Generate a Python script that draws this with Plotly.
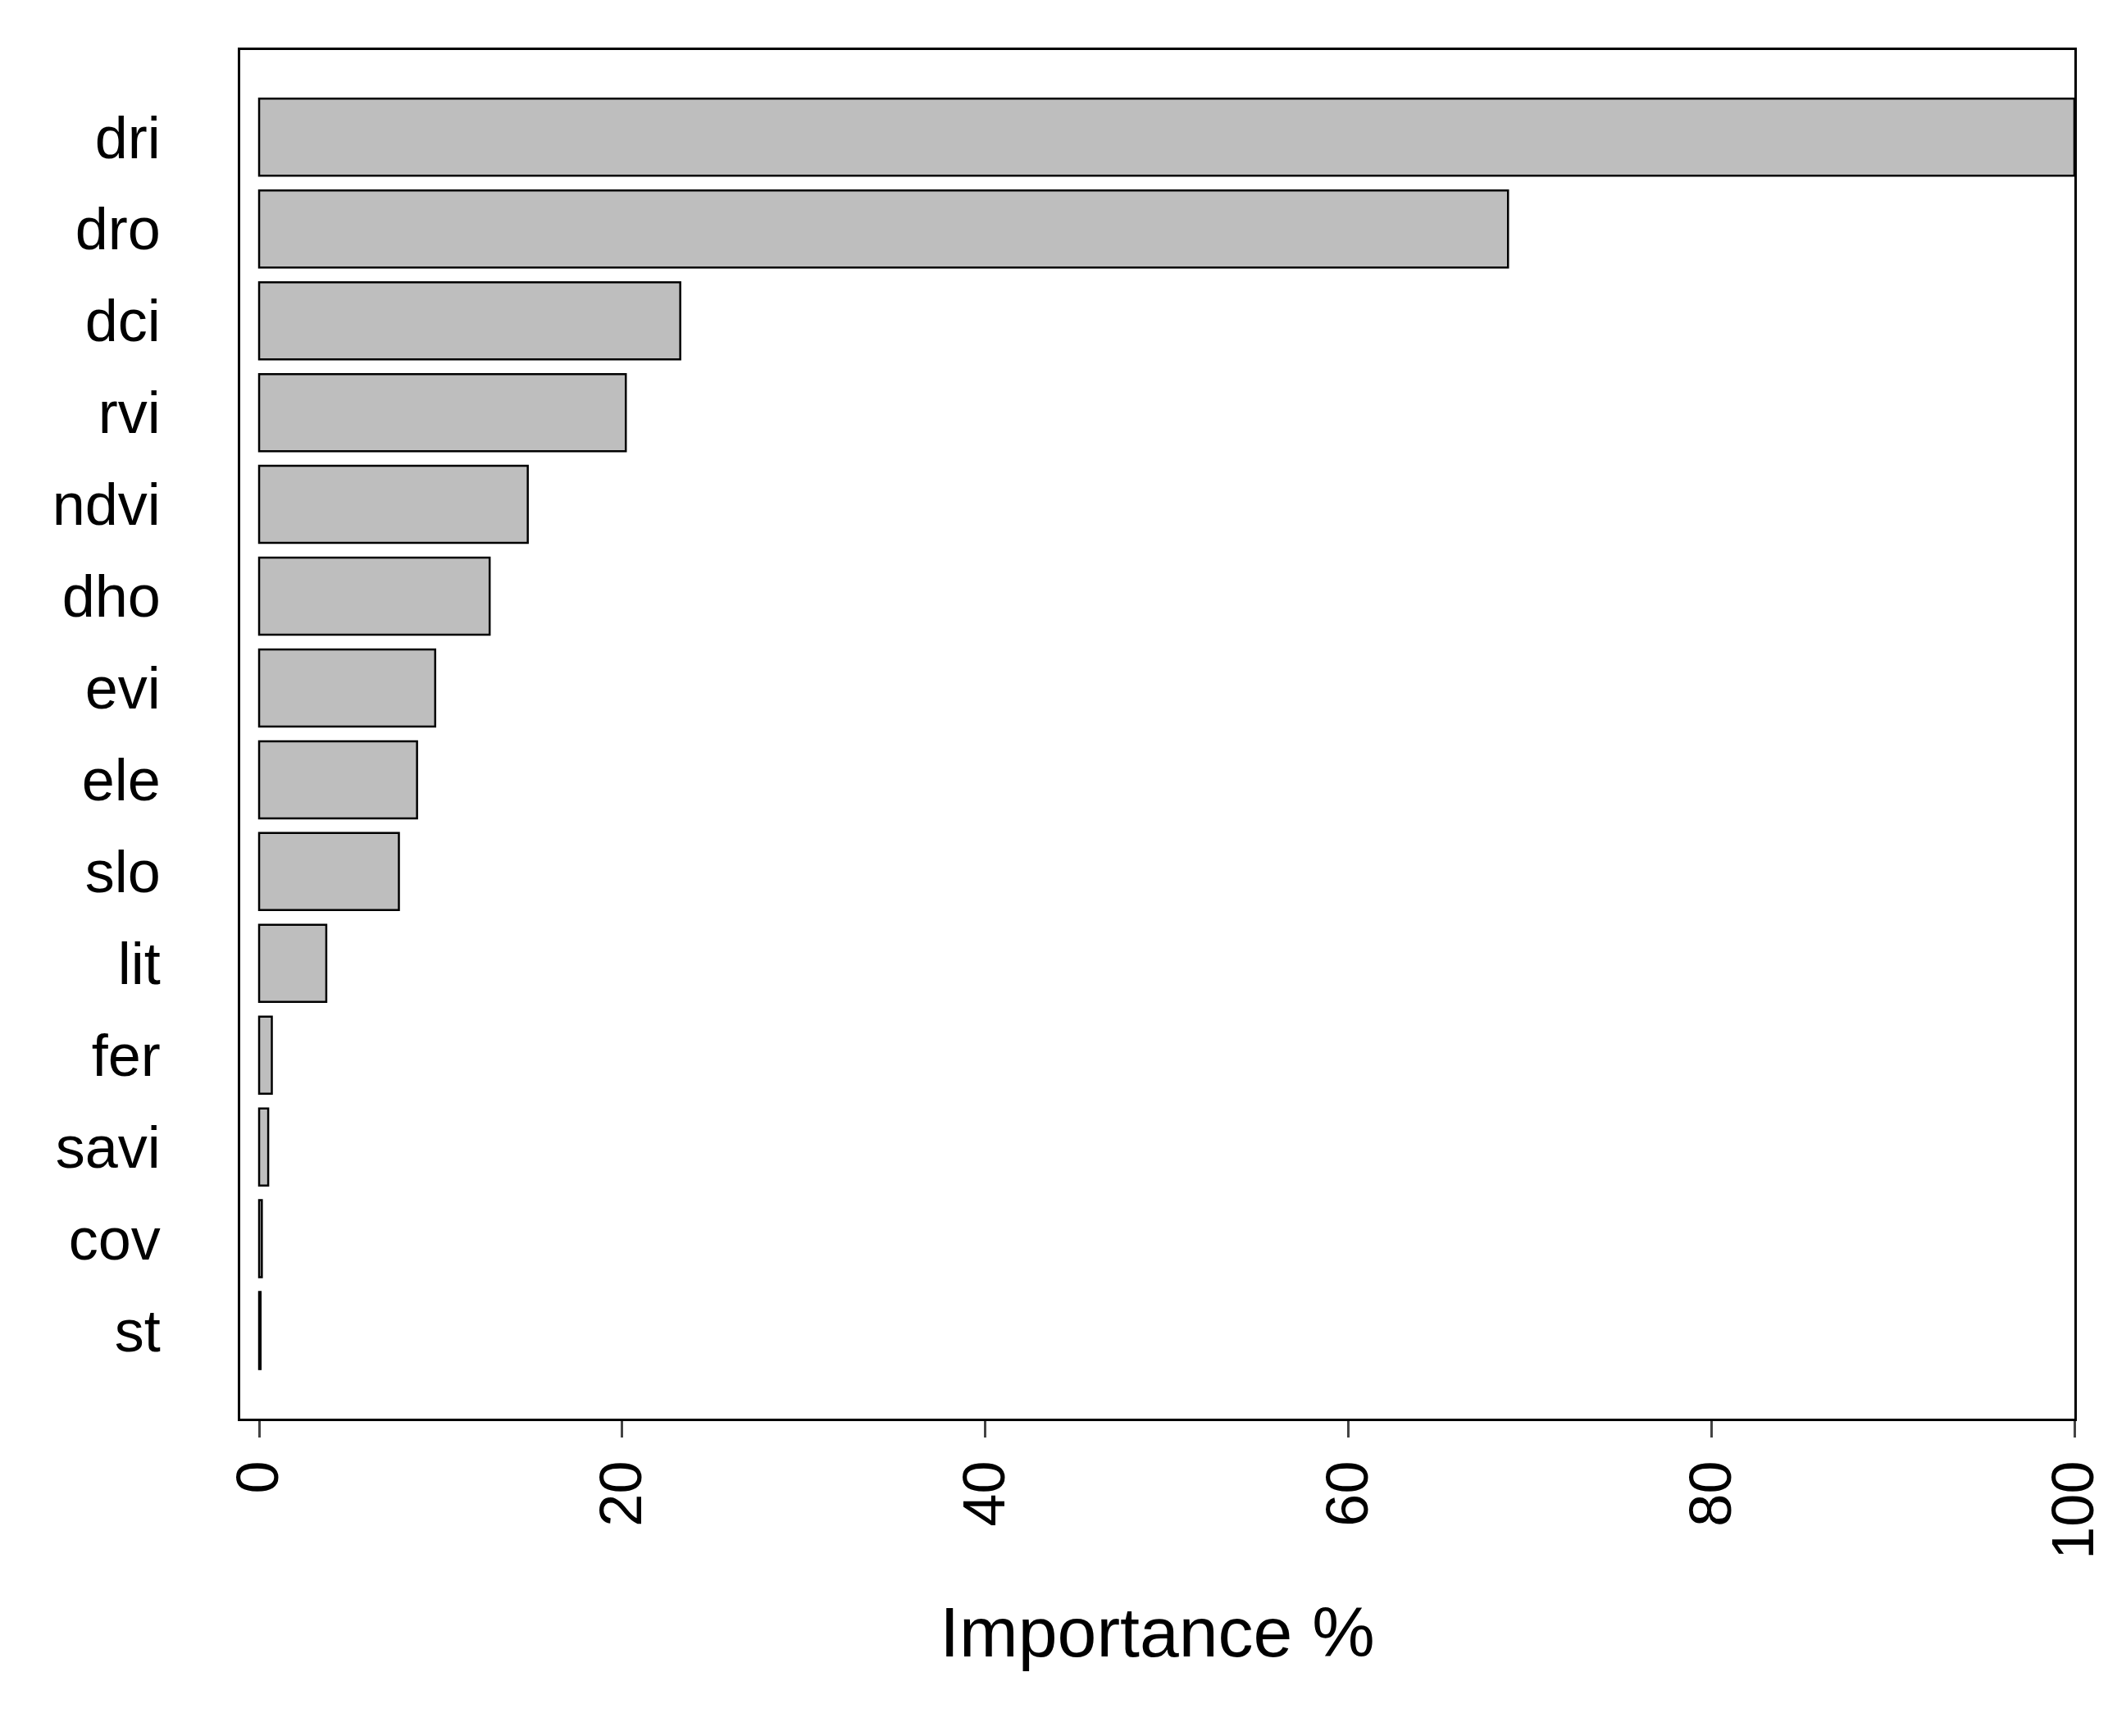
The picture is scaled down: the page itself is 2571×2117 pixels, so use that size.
import plotly.graph_objects as go

variables = ["dri","dro","dci","rvi","ndvi","dho","evi","ele","slo","lit","fer","savi","cov","st"]
importance = [100, 68.8, 23.2, 20.2, 14.8, 12.7, 9.7, 8.7, 7.7, 3.7, 0.7, 0.5, 0.15, 0.08]
tick_vals = [0, 20, 40, 60, 80, 100]

n = len(variables)
ypos = list(range(n))

fig = go.Figure(go.Bar(
    x=importance, y=ypos, orientation="h", width=0.84,
    marker=dict(color="#bebebe", line=dict(color="black", width=2.5)),
))
font = dict(family="Liberation Sans, Arial, sans-serif", size=72, color="black")
fig.update_layout(
    width=2571, height=2117, plot_bgcolor="white", paper_bgcolor="white",
    margin=dict(l=285, r=49, t=53, b=395), font=font, showlegend=False,
    xaxis=dict(range=[-1.04, 100.0], tickvals=tick_vals, tickangle=-90,
               ticks="outside", ticklen=20, tickwidth=2.5, showgrid=False,
               zeroline=False, showline=True, linecolor="black", linewidth=2.5, mirror=True,
               title=dict(text="Importance %", standoff=60), tickfont=font),
    yaxis=dict(range=[n - 1 + 0.96, -0.95], tickvals=ypos, ticktext=variables,
               ticks="", showgrid=False, zeroline=False, showline=True,
               linecolor="black", linewidth=2.5, mirror=True, ticklabelstandoff=80, tickfont=font),
)
fig.write_html("out.html")
